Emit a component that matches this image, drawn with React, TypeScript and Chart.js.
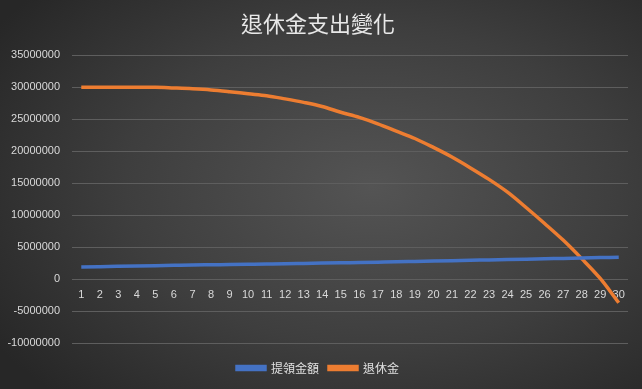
import React, { useEffect, useRef } from "react";
import { Chart, registerables } from "chart.js";

Chart.register(...registerables);

const categories: string[] = Array.from({ length: 30 }, (_, i) => String(i + 1));

const withdrawal: number[] = [
  1900000, 1950000, 2000000, 2050000, 2100000, 2150000, 2200000, 2240000, 2280000, 2320000,
  2360000, 2400000, 2450000, 2500000, 2550000, 2600000, 2650000, 2700000, 2760000, 2820000,
  2880000, 2940000, 3000000, 3060000, 3120000, 3180000, 3240000, 3300000, 3360000, 3420000,
];

const pension: number[] = [
  30000000, 30000000, 30000000, 30000000, 30000000, 29900000, 29780000, 29600000, 29320000, 29000000,
  28700000, 28200000, 27650000, 27000000, 26100000, 25300000, 24300000, 23150000, 22000000, 20600000,
  19100000, 17400000, 15600000, 13600000, 11200000, 8700000, 6100000, 3200000, 100000, -3700000,
];

const seriesNames = ["提領金額", "退休金"];
const titleText = "退休金支出變化";

export default function App() {
  const ref = useRef<HTMLCanvasElement | null>(null);

  useEffect(() => {
    if (!ref.current) return;
    const chart = new Chart(ref.current, {
      type: "line",
      data: {
        labels: categories,
        datasets: [
          {
            label: seriesNames[0],
            data: withdrawal,
            borderColor: "#4472C4",
            backgroundColor: "#4472C4",
            borderWidth: 3.5,
            pointRadius: 0,
            tension: 0.3,
            cubicInterpolationMode: "monotone",
          },
          {
            label: seriesNames[1],
            data: pension,
            borderColor: "#ED7D31",
            backgroundColor: "#ED7D31",
            borderWidth: 3.5,
            pointRadius: 0,
            tension: 0.3,
            cubicInterpolationMode: "monotone",
          },
        ],
      },
      options: {
        responsive: false,
        animation: false,
        maintainAspectRatio: false,
        layout: { padding: { left: 8, right: 14, top: 0, bottom: 5 } },
        plugins: {
          title: {
            display: true,
            text: titleText,
            color: "#e8e8e8",
            font: { family: "'Noto Sans CJK TC', sans-serif", size: 22, weight: "normal" },
            padding: { top: 10, bottom: 19 },
          },
          legend: {
            position: "bottom",
            labels: {
              color: "#e0e0e0",
              boxWidth: 28,
              boxHeight: 3,
              padding: 10,
              font: { family: "'Noto Sans CJK TC', sans-serif", size: 12 },
            },
          },
          tooltip: { enabled: false },
        },
        scales: {
          x: {
            position: { y: 0 } as any,
            offset: true,
            grid: { display: false, drawTicks: false },
            border: { display: false },
            ticks: {
              color: "#d9d9d9",
              padding: 9,
              maxRotation: 0,
              autoSkip: false,
              font: { family: "'Liberation Sans', sans-serif", size: 11 },
            },
          },
          spacer: {
            type: "category",
            position: "bottom",
            grid: { display: false, drawTicks: false },
            border: { display: false },
            ticks: { display: false },
            afterFit: (scale: any) => {
              scale.height = 9;
            },
          } as any,
          y: {
            min: -10000000,
            max: 35000000,
            grid: { color: "#5e5e5e", lineWidth: 1, drawTicks: false },
            border: { display: false },
            afterFit: (scale: any) => {
              scale.width = 64;
            },
            ticks: {
              stepSize: 5000000,
              color: "#d9d9d9",
              padding: 12,
              font: { family: "'Liberation Sans', sans-serif", size: 11 },
              callback: (v: any) => String(v),
            },
          },
        },
      },
    });
    return () => chart.destroy();
  }, []);

  return (
    <div
      style={{
        position: "absolute",
        left: 0,
        top: 0,
        width: 642,
        height: 389,
        background: "radial-gradient(ellipse 70% 75% at 58% 48%, #545454 0%, #3e3e3e 55%, #272727 100%)",
      }}
    >
      <canvas ref={ref} width={642} height={389} style={{ display: "block" }} />
    </div>
  );
}
